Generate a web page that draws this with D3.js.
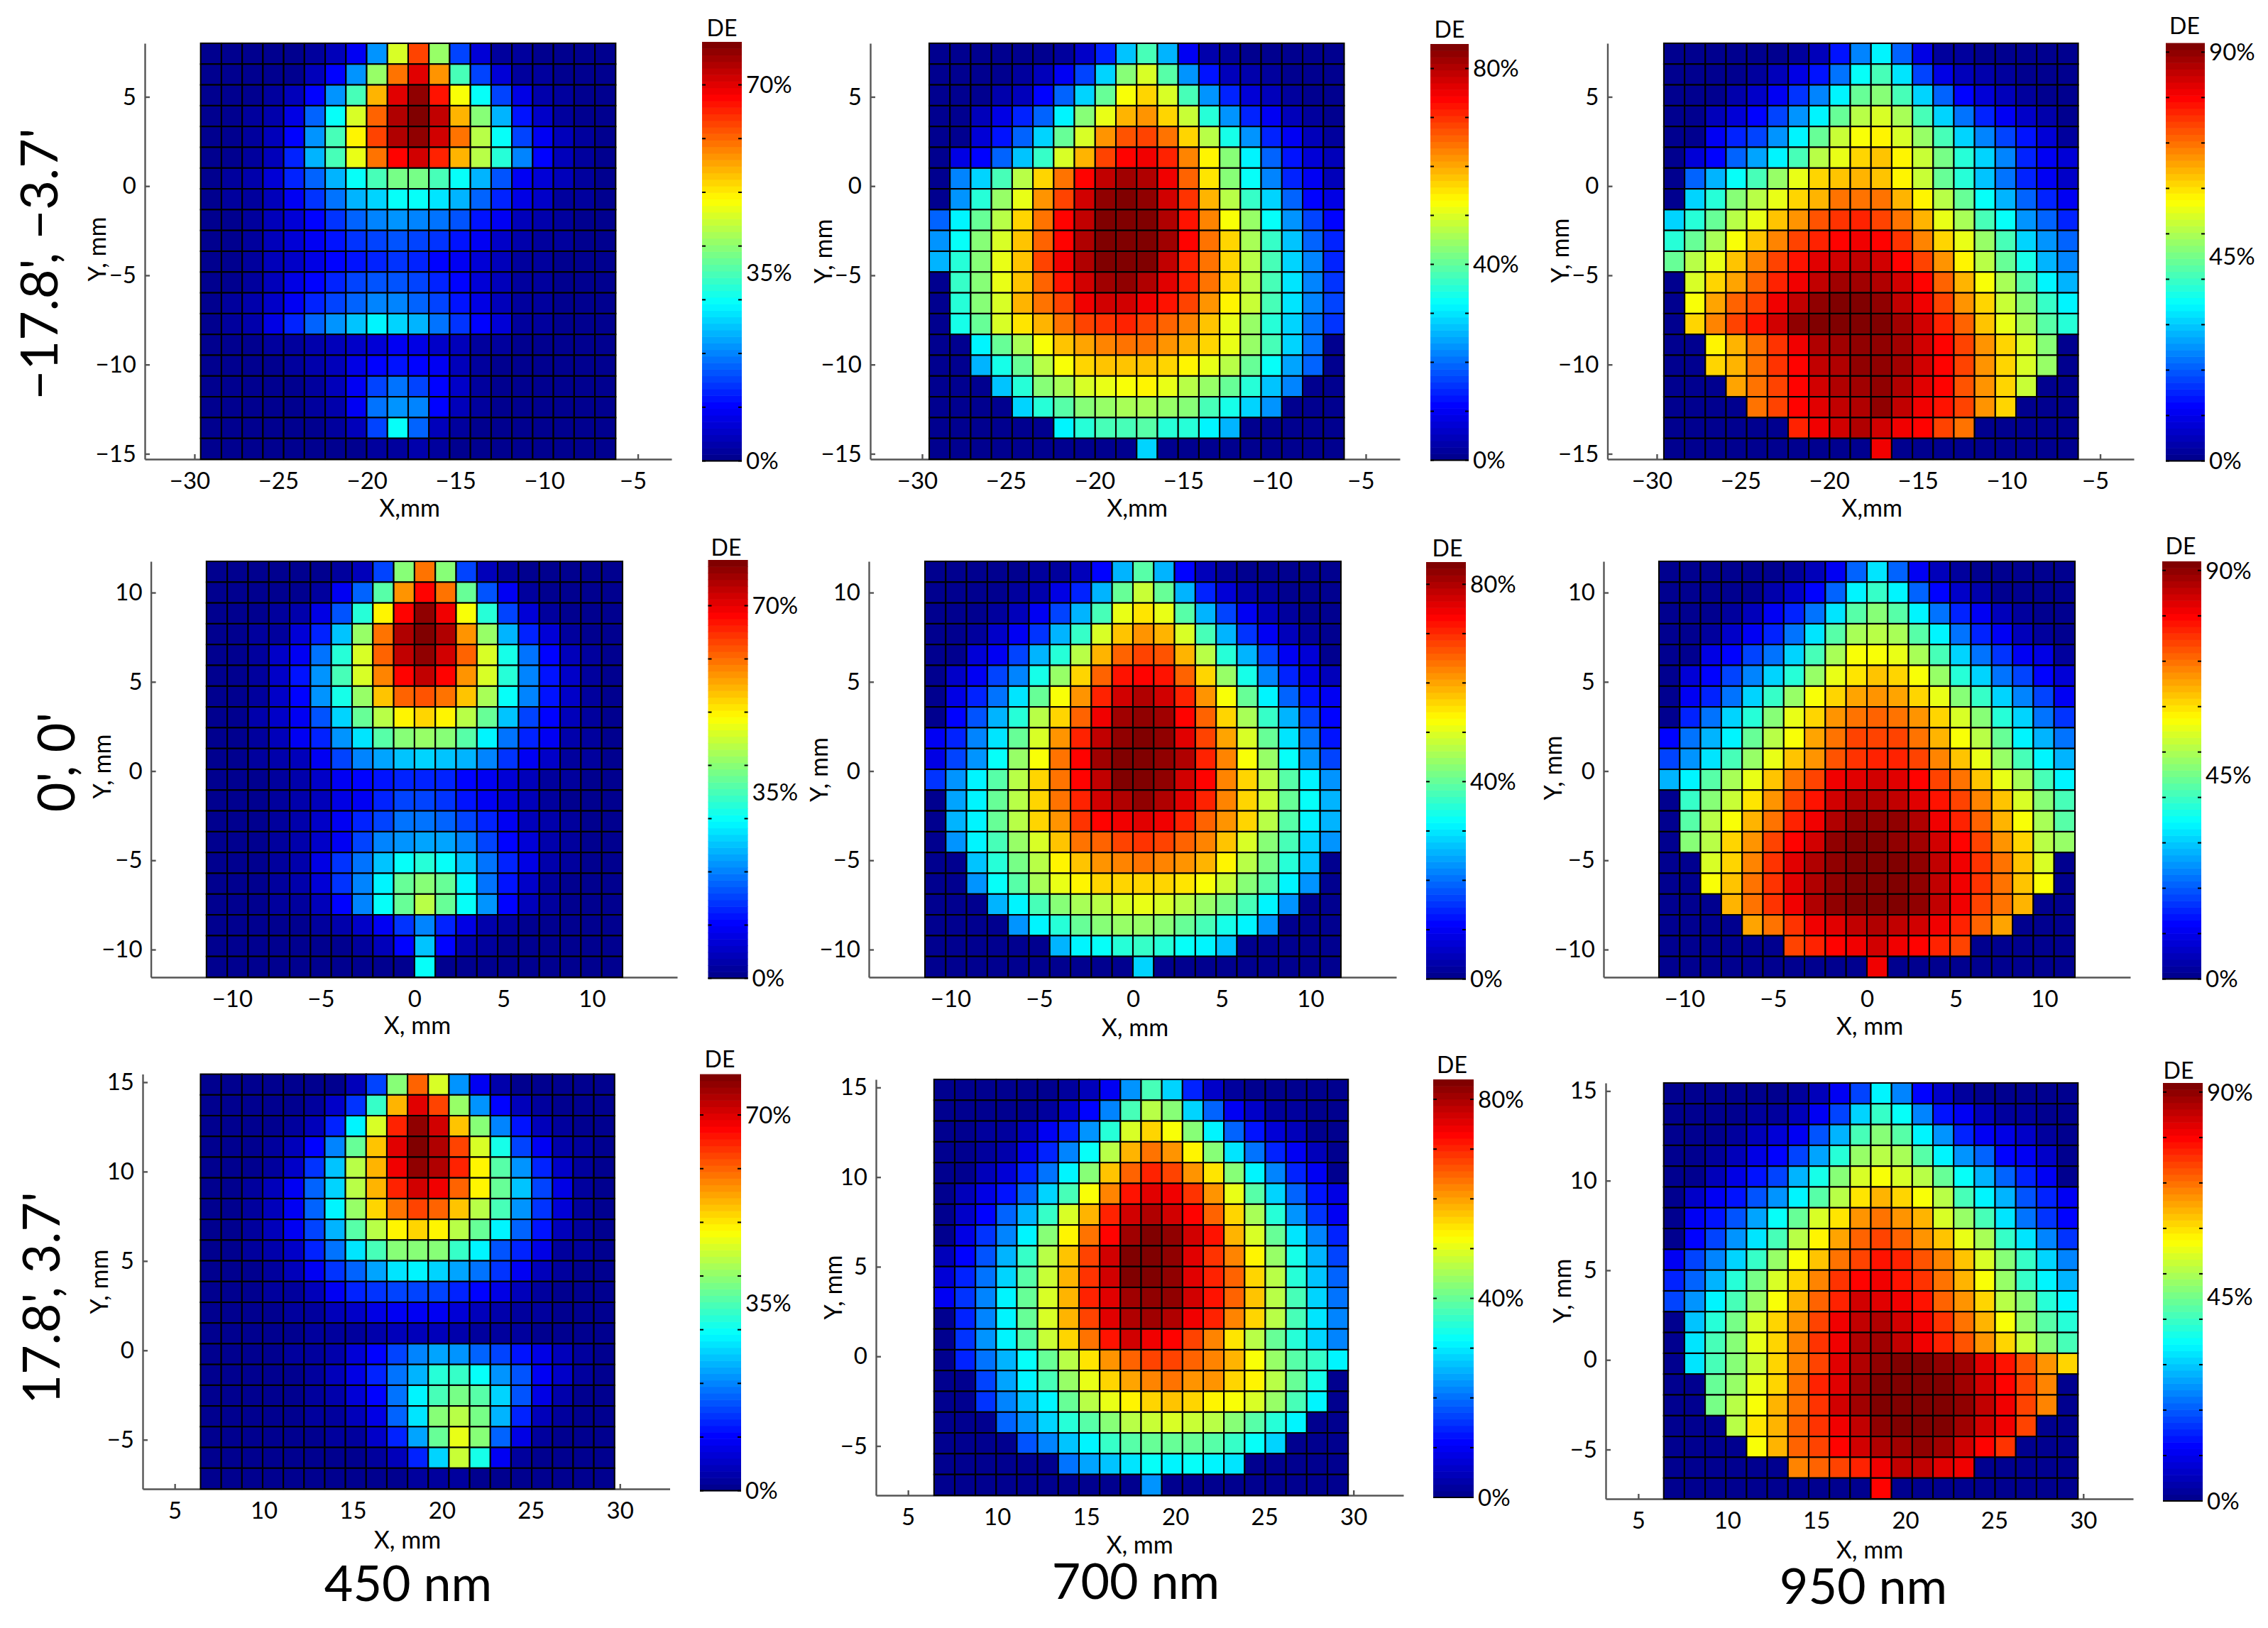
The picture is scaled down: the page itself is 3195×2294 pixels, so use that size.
<!DOCTYPE html>
<html>
<head>
<meta charset="utf-8">
<script src="https://cdn.jsdelivr.net/npm/d3@7"></script>
<style>
  html, body { margin: 0; background: #fff; }
  text { font-family: Lato, "Open Sans", sans-serif; fill: #000; }
</style>
</head>
<body>
<svg id="fig" width="3195" height="2294"></svg>
<script>
const top450 = [
[1,1,1,1,1,2,5,11,27,58,80,53,20,8,3,2,1,1,1,1],
[1,1,1,1,1,6,13,27,52,75,90,72,45,20,8,3,2,1,1,1],
[1,1,1,2,5,13,27,45,70,90,97,85,62,38,20,10,4,2,1,1],
[1,1,2,4,10,22,38,58,77,95,100,93,70,50,30,15,7,3,1,1],
[1,1,2,6,14,28,45,63,80,95,98,91,75,56,38,20,12,5,2,1],
[1,1,2,6,17,30,45,60,75,87,92,83,70,55,42,25,13,6,3,1],
[1,2,4,8,16,22,30,38,44,49,49,45,38,30,21,12,8,5,2,1],
[1,2,3,6,12,18,24,30,34,38,38,35,30,22,16,10,7,3,2,1],
[1,1,3,5,9,13,18,22,25,27,26,24,21,15,11,6,4,2,1,1],
[1,1,3,5,8,11,15,18,20,21,20,18,15,11,7,4,3,2,1,1],
[1,1,2,5,7,10,13,15,17,18,17,14,11,8,5,3,2,1,1,1],
[1,1,3,6,10,14,17,20,21,21,20,17,13,9,6,3,2,1,1,1],
[1,2,4,7,11,17,20,23,25,25,23,20,15,10,5,3,2,1,1,1],
[1,2,4,10,17,23,28,32,36,34,30,24,18,13,8,3,2,1,1,1],
[1,1,1,2,3,4,5,7,9,11,10,7,5,3,2,1,1,1,1,1],
[1,1,1,1,2,4,6,10,14,15,14,11,6,3,1,1,1,1,1,1],
[1,1,1,1,1,3,6,11,19,24,20,13,7,3,1,1,1,1,1,1],
[1,1,1,1,1,2,4,11,24,28,25,13,5,2,1,1,1,1,1,1],
[1,1,1,1,1,1,2,5,20,38,22,6,3,1,1,1,1,1,1,1],
[1,1,1,1,1,1,1,1,2,2,4,2,1,1,1,1,1,1,1,1]
];
const top700 = [
[1,1,1,1,1,1,3,7,17,32,45,30,12,4,2,1,1,1,1,1],
[1,1,1,1,3,6,11,19,33,50,58,46,28,15,6,4,2,1,1,1],
[1,1,1,4,6,13,23,33,48,62,67,58,44,27,16,9,5,2,1,1],
[1,1,5,10,16,23,36,50,60,69,73,67,57,42,27,17,12,5,3,1],
[1,1,9,15,22,33,47,58,72,79,81,76,66,55,40,27,16,11,5,2],
[1,10,14,23,32,43,58,70,80,87,88,83,74,63,50,37,23,15,9,5],
[1,25,33,45,55,67,76,86,93,96,95,88,77,65,50,39,25,17,12,6],
[1,28,42,52,60,72,81,91,98,100,98,92,82,70,56,43,33,23,14,10],
[22,36,47,56,66,76,86,93,99,100,99,94,85,74,62,52,38,28,20,13],
[27,39,50,59,68,78,87,95,100,100,100,96,87,76,66,54,43,32,23,17],
[31,41,51,60,68,80,88,95,99,100,99,93,84,75,66,55,44,33,26,17],
[1,43,51,60,68,78,85,91,96,97,95,90,84,76,66,56,45,35,25,18],
[1,42,51,59,69,76,81,88,92,92,89,85,80,73,64,57,45,35,26,19],
[1,40,48,58,65,70,76,80,82,83,80,78,74,68,60,52,42,33,24,18],
[1,1,37,47,54,62,68,71,74,76,75,72,70,66,60,53,45,34,24,1],
[1,1,30,40,47,56,62,66,68,68,68,66,64,60,55,47,39,29,22,1],
[1,1,1,32,42,50,54,58,60,62,63,60,56,53,47,41,32,25,1,1],
[1,1,1,1,33,41,46,50,52,54,54,52,50,44,40,34,27,1,1,1],
[1,1,1,1,1,1,37,41,44,45,46,42,42,36,30,1,1,1,1,1],
[1,1,1,1,1,1,1,1,1,1,34,1,1,1,1,1,1,1,1,1]
];
const top950 = [
[1,1,1,1,1,1,3,6,15,26,37,22,10,3,2,1,1,1,1,1],
[1,1,1,1,3,6,10,15,24,38,44,35,19,10,6,4,2,1,1,1],
[1,1,1,4,7,11,18,26,36,48,50,44,33,22,14,9,6,3,1,1],
[1,1,6,9,14,20,28,37,47,55,58,54,45,33,24,16,11,7,4,1],
[1,1,11,16,20,27,36,47,57,61,63,59,52,44,33,26,20,15,9,3],
[1,9,14,22,29,37,45,55,60,67,68,63,57,49,41,33,25,17,12,8],
[1,23,31,39,45,52,60,66,68,70,68,63,57,48,41,32,24,17,12,7],
[1,33,42,50,55,60,67,70,75,76,75,70,63,55,47,39,30,22,16,11],
[33,41,48,55,60,68,73,79,82,83,81,76,70,60,54,45,38,28,22,16],
[41,47,54,61,68,74,81,84,87,88,87,82,74,67,60,52,44,34,27,22],
[48,55,60,68,74,80,85,90,92,93,92,87,81,72,64,55,47,40,31,25],
[1,58,67,71,78,83,89,93,96,96,95,91,86,78,70,62,54,46,36,30],
[1,62,71,77,81,88,93,97,99,99,97,93,88,80,73,66,57,50,43,36],
[1,67,74,81,85,92,97,100,100,100,99,96,91,84,77,68,60,54,46,41],
[1,1,64,70,76,82,88,94,96,97,97,96,91,87,80,72,66,58,50,1],
[1,1,66,70,76,82,87,93,95,97,97,96,91,87,80,72,66,59,52,1],
[1,1,1,71,76,81,86,91,94,96,97,94,90,86,79,72,66,57,1,1],
[1,1,1,1,76,80,86,90,93,95,97,93,89,85,80,72,67,1,1,1],
[1,1,1,1,1,1,84,88,91,94,92,89,86,80,76,1,1,1,1,1],
[1,1,1,1,1,1,1,1,1,1,88,1,1,1,1,1,1,1,1,1]
];
const mid450 = [
[1,1,1,1,1,1,2,6,20,50,75,51,20,6,2,1,1,1,1,1],
[1,1,1,1,1,3,12,22,46,73,87,75,47,21,12,3,1,1,1,1],
[1,1,1,2,4,10,21,41,64,87,97,89,62,42,20,9,3,1,1,1],
[1,1,2,3,8,17,32,53,75,94,100,94,73,53,30,16,9,3,1,1],
[1,1,2,7,12,24,41,59,78,93,98,91,77,58,40,24,13,6,2,1],
[1,1,3,7,15,27,44,59,74,87,93,87,73,58,42,25,15,7,3,1],
[1,1,2,7,14,27,40,53,68,77,79,76,68,54,39,25,15,7,2,1],
[1,1,4,7,12,21,33,47,56,64,66,64,56,47,32,20,13,6,3,1],
[1,1,2,5,12,16,27,35,46,50,52,50,46,36,24,16,12,4,2,1],
[1,1,2,4,6,12,19,25,29,32,33,32,30,26,18,12,7,3,2,1],
[1,1,1,2,4,7,11,13,15,17,17,16,14,12,9,6,3,2,1,1],
[1,1,1,2,4,6,10,12,16,19,19,18,15,12,9,5,3,1,1,1],
[1,1,1,2,4,7,12,16,20,24,24,23,20,17,12,6,4,2,1,1],
[1,1,1,2,4,7,11,19,25,28,29,29,26,20,14,9,4,2,1,1],
[1,1,1,2,4,10,18,24,32,38,42,38,32,24,16,10,4,2,1,1],
[1,1,1,2,4,8,18,26,36,47,50,47,37,24,15,7,3,1,1,1],
[1,1,1,2,3,6,14,26,38,48,55,47,38,27,13,5,3,1,1,1],
[1,1,1,1,1,2,4,7,11,18,25,17,10,4,2,1,1,1,1,1],
[1,1,1,1,1,1,1,2,5,14,32,14,4,2,1,1,1,1,1,1],
[1,1,1,1,1,1,1,1,1,1,38,1,1,1,1,1,1,1,1,1]
];
const mid700 = [
[1,1,1,1,1,2,3,6,14,30,46,30,14,5,2,1,1,1,1,1],
[1,1,1,1,2,4,10,17,30,47,57,48,30,17,8,4,2,1,1,1],
[1,1,1,3,6,11,19,31,44,60,65,60,46,31,19,11,6,3,1,1],
[1,1,3,7,11,18,30,43,58,68,73,69,58,44,30,18,12,6,3,1],
[1,1,9,11,19,30,42,56,69,78,81,79,69,56,42,30,19,12,8,1],
[1,7,12,19,26,40,53,67,78,85,87,85,77,66,53,40,26,17,10,6],
[1,10,17,24,35,48,61,72,83,91,94,92,84,72,61,47,36,23,15,11],
[1,13,21,31,42,55,66,78,88,96,98,96,87,77,66,54,43,31,19,14],
[11,16,25,35,47,58,72,83,93,98,100,98,90,81,71,59,47,35,24,15],
[10,20,28,38,53,62,75,86,96,100,100,98,94,84,74,62,52,38,28,20],
[18,27,36,46,56,66,76,86,93,99,100,97,92,86,74,67,56,46,36,28],
[1,29,37,47,56,66,75,84,91,95,97,94,90,83,74,66,57,47,38,30],
[1,30,37,47,56,66,72,82,87,89,90,88,84,78,72,66,56,46,37,30],
[1,28,36,45,53,59,68,75,78,81,82,80,78,74,68,59,51,44,34,27],
[1,1,32,41,49,56,63,68,72,74,75,74,72,69,63,55,49,41,32,1],
[1,1,28,38,46,54,60,63,66,67,67,67,65,62,57,51,46,36,28,1],
[1,1,1,30,36,45,51,54,56,58,60,58,56,52,49,45,37,28,1,1],
[1,1,1,1,28,36,42,47,50,52,52,50,48,44,40,36,28,1,1,1],
[1,1,1,1,1,1,31,36,39,41,43,41,39,36,32,1,1,1,1,1],
[1,1,1,1,1,1,1,1,1,1,33,1,1,1,1,1,1,1,1,1]
];
const mid950 = [
[1,1,1,1,1,1,2,5,12,23,35,23,12,5,2,1,1,1,1,1],
[1,1,1,1,1,4,7,13,23,36,43,36,22,13,7,4,1,1,1,1],
[1,1,1,3,6,11,17,24,35,46,50,46,36,24,17,11,5,2,1,1],
[1,1,3,7,11,17,24,35,46,54,56,54,46,36,24,17,11,6,3,1],
[1,1,10,13,19,24,33,44,54,61,62,60,54,44,33,24,18,12,10,3],
[1,8,13,19,25,33,42,52,60,65,68,66,62,53,42,33,24,19,13,9],
[1,12,17,24,34,43,52,61,67,71,73,71,66,60,51,43,34,25,20,12],
[1,17,24,33,42,50,60,67,72,76,78,76,72,67,58,50,42,33,24,18],
[14,24,30,37,47,56,62,71,75,80,81,80,75,70,62,55,47,37,31,24],
[19,28,35,45,52,60,68,73,79,82,84,83,80,74,68,60,52,45,36,30],
[30,36,46,54,60,68,76,80,88,90,91,90,87,80,76,68,60,54,45,36],
[1,43,51,57,65,72,80,85,91,94,95,93,90,85,80,74,68,58,50,44],
[1,46,55,62,69,76,84,89,94,97,98,97,94,89,84,78,70,62,54,46],
[1,50,56,66,73,80,87,92,97,99,100,98,96,91,87,80,72,66,56,52],
[1,1,59,67,74,82,90,95,98,100,100,100,97,93,88,82,75,68,59,1],
[1,1,62,68,76,82,90,95,98,100,100,100,98,93,89,82,76,68,62,1],
[1,1,1,69,76,82,89,94,97,99,100,99,97,93,88,81,75,69,1,1],
[1,1,1,1,71,76,82,88,90,93,94,93,91,88,83,77,71,1,1,1],
[1,1,1,1,1,1,80,84,87,89,91,89,87,84,80,1,1,1,1,1],
[1,1,1,1,1,1,1,1,1,1,88,1,1,1,1,1,1,1,1,1]
];
const low450 = [
[1,1,1,1,1,1,1,6,20,50,78,58,27,11,4,1,1,1,1,1],
[1,1,1,1,1,2,7,18,43,70,90,80,53,28,14,6,2,1,1,1],
[1,1,1,1,2,6,16,36,58,84,97,92,68,50,25,15,5,2,1,1],
[1,1,1,2,5,13,26,48,68,90,100,95,81,58,40,20,12,4,2,1],
[1,1,1,3,7,18,32,55,70,88,98,95,83,63,46,28,16,7,2,1],
[1,1,2,5,12,22,34,55,70,84,91,88,78,63,47,32,19,10,3,1],
[1,1,2,6,12,23,37,52,66,76,80,77,68,56,44,28,18,8,2,1],
[1,1,2,5,11,20,30,46,55,63,67,63,56,47,36,23,15,6,2,1],
[1,1,2,4,7,16,24,35,44,50,50,50,43,36,21,17,10,3,2,1],
[1,1,1,3,5,11,18,23,29,35,36,33,29,24,18,11,5,3,1,1],
[1,1,1,2,3,6,12,16,18,20,20,19,16,13,10,5,3,1,1,1],
[1,1,1,1,2,3,5,7,10,12,12,11,9,6,4,3,2,1,1,1],
[1,1,1,1,1,2,2,3,4,5,5,5,4,3,2,2,1,1,1,1],
[1,1,1,1,2,3,4,9,14,20,25,29,27,22,19,15,10,5,2,1],
[1,1,1,1,1,3,5,10,17,24,31,41,43,38,28,21,12,7,2,1],
[1,1,1,1,1,2,4,8,14,24,36,45,49,46,33,21,10,4,1,1],
[1,1,1,1,1,2,3,5,10,23,35,50,56,49,31,16,6,2,1,1],
[1,1,1,1,1,1,2,3,7,17,29,48,60,50,23,10,3,1,1,1],
[1,1,1,1,1,1,1,1,2,5,17,33,57,40,12,2,1,1,1,1],
[1,1,1,1,1,1,1,1,1,1,2,2,2,1,1,1,1,1,1,1]
];
const low700 = [
[1,1,1,1,1,1,3,6,12,28,45,33,16,7,3,1,1,1,1,1],
[1,1,1,1,1,3,7,14,26,44,56,50,33,22,11,7,3,2,1,1],
[1,1,2,3,6,11,16,27,42,58,66,62,50,36,22,15,8,5,1,1],
[1,1,3,4,10,16,26,39,55,69,75,72,64,50,35,24,16,11,6,1],
[1,1,5,9,16,24,36,50,68,78,83,81,73,65,50,36,25,17,11,1],
[1,5,10,15,23,33,45,62,74,85,90,88,82,73,60,46,33,23,15,10],
[1,7,14,23,31,43,58,70,83,91,95,92,86,77,66,54,41,27,18,11],
[1,10,18,26,36,50,63,75,86,96,99,97,92,85,70,59,47,35,25,16],
[6,14,21,30,43,55,68,80,92,99,100,98,90,82,74,64,53,40,30,20],
[9,16,24,34,46,57,70,82,91,99,100,98,90,84,78,66,55,42,32,22],
[11,18,25,36,48,59,70,83,90,96,98,97,91,85,77,68,56,45,34,24],
[1,17,26,36,48,59,69,81,90,95,96,94,88,83,74,67,56,45,35,25],
[1,18,27,37,46,57,66,76,85,91,89,86,80,74,65,56,47,41,33,25],
[1,16,24,30,39,47,55,65,73,78,81,81,77,74,69,61,53,46,43,36],
[1,1,20,29,36,44,52,60,67,71,74,76,73,72,67,63,55,48,40,1],
[1,1,18,25,32,37,48,55,60,64,67,68,66,64,62,58,52,45,36,1],
[1,1,1,22,28,33,41,46,50,55,57,58,57,55,51,46,42,36,1,1],
[1,1,1,1,21,26,32,36,43,46,48,48,48,46,43,39,34,1,1,1],
[1,1,1,1,1,1,24,29,32,35,38,37,38,36,35,1,1,1,1,1],
[1,1,1,1,1,1,1,1,1,1,27,1,1,1,1,1,1,1,1,1]
];
const low950 = [
[1,1,1,1,1,1,3,5,11,20,37,26,14,7,2,1,1,1,1,1],
[1,1,1,1,2,3,6,12,20,33,43,38,26,15,11,6,3,2,1,1],
[1,1,1,2,5,8,12,21,30,44,50,46,36,27,17,12,10,7,2,1],
[1,1,3,5,10,13,20,29,41,52,56,54,46,36,28,22,14,11,7,1],
[1,1,6,10,15,20,30,40,50,58,62,59,55,47,38,31,23,17,12,1],
[1,7,11,15,21,27,36,46,56,65,70,66,62,55,45,36,30,21,16,12],
[1,11,15,21,29,38,47,58,65,73,76,73,69,59,52,45,35,24,18,13],
[1,14,19,28,35,45,55,63,71,78,81,78,72,68,60,54,43,35,26,18],
[12,20,26,33,43,52,61,68,75,81,85,83,79,74,68,58,50,43,33,25],
[16,22,31,41,49,59,66,74,82,87,88,85,82,76,70,62,53,43,36,31],
[20,27,37,44,53,62,69,77,84,92,90,89,85,78,72,66,56,50,41,37],
[1,32,42,49,58,66,72,80,88,93,94,92,88,82,75,69,62,52,46,41],
[1,35,44,50,60,67,74,82,88,94,96,93,88,84,79,73,66,57,50,44],
[1,35,44,50,57,66,74,81,90,94,97,100,100,98,96,90,85,79,73,66],
[1,1,47,53,60,67,75,83,90,96,99,100,100,99,96,91,87,81,74,1],
[1,1,49,55,62,69,76,82,91,96,99,100,100,99,97,93,89,81,74,1],
[1,1,1,55,65,70,77,82,89,93,97,99,100,99,96,92,88,81,1,1],
[1,1,1,1,62,70,77,81,87,92,95,96,97,96,92,86,82,1,1,1],
[1,1,1,1,1,1,74,77,81,84,89,93,93,90,88,1,1,1,1,1],
[1,1,1,1,1,1,1,1,1,1,86,1,1,1,1,1,1,1,1,1]
];

const rowLabels = ["\u221217.8', \u22123.7'", "0', 0'", "17.8', 3.7'"];
const wavelengths = ['450 nm', '700 nm', '950 nm'];
const xTicksByRow = [[-30, -25, -20, -15, -10, -5], [-10, -5, 0, 5, 10], [5, 10, 15, 20, 25, 30]];
const yTicksByRow = [[-15, -10, -5, 0, 5], [-10, -5, 0, 5, 10], [-5, 0, 5, 10, 15]];
const barLabelsByColumn = [[0, 35, 70], [0, 40, 80], [0, 45, 90]];
const xTitles = ['X,mm', 'X, mm', 'X, mm'];

// layout of every panel: plot box, axis domains, cell extent in mm, colour bar box and top value
const layout = [
  {row: 0, col: 0, data: top450, box: [204, 946, 61, 647], xDom: [-32.8, -3.1], yDom: [-15.3, 8], edges: [-29.65, -6.25], bar: [989, 1045, 59, 649.5, 78], de: [1017, 39], xt: [577, 716], yt: [137, 351]},
  {row: 0, col: 1, data: top700, box: [1226, 1972, 61, 647], xDom: [-32.92, -3.08], yDom: [-15.3, 8], edges: [-29.6, -6.22], bar: [2015, 2069, 62, 648.5, 85], de: [2042, 41], xt: [1602, 716], yt: [1160, 354]},
  {row: 0, col: 2, data: top950, box: [2264.5, 3006, 61, 647], xDom: [-32.78, -3.1], yDom: [-15.3, 8], edges: [-29.6, -6.24], bar: [3051, 3106, 60.6, 649.5, 92], de: [3077.5, 36], xt: [2637, 716], yt: [2198, 353]},
  {row: 1, col: 0, data: mid450, box: [212.6, 954, 791, 1377], xDom: [-14.85, 14.8], yDom: [-11.55, 11.75], edges: [-11.72, 11.72], bar: [997.5, 1053.6, 789, 1378.5, 78.6], de: [1023, 771], xt: [588, 1445], yt: [144, 1080]},
  {row: 1, col: 1, data: mid700, box: [1224, 1967, 791, 1377], xDom: [-14.88, 14.84], yDom: [-11.55, 11.75], edges: [-11.72, 11.72], bar: [2009, 2065, 792, 1379.5, 84.5], de: [2039, 772], xt: [1599, 1448], yt: [1153.6, 1084.5]},
  {row: 1, col: 2, data: mid950, box: [2259, 3001, 791, 1377], xDom: [-14.84, 14.84], yDom: [-11.55, 11.75], edges: [-11.72, 11.72], bar: [3046, 3101, 791, 1379.5, 92], de: [3072, 769], xt: [2634, 1446], yt: [2188, 1082]},
  {row: 2, col: 0, data: low450, box: [201, 943.5, 1513.6, 2098], xDom: [3.2, 32.8], yDom: [-7.75, 15.45], edges: [6.45, 29.7], bar: [986, 1044, 1513.6, 2100.6, 77.6], de: [1014, 1492], xt: [574, 2170], yt: [140, 1806]},
  {row: 2, col: 1, data: low700, box: [1234, 1977, 1521, 2107], xDom: [3.2, 32.8], yDom: [-7.75, 15.45], edges: [6.46, 29.7], bar: [2019, 2076, 1521, 2110, 84], de: [2045.5, 1500], xt: [1605.6, 2177], yt: [1173.7, 1814]},
  {row: 2, col: 2, data: low950, box: [2262, 3005, 1526, 2112], xDom: [3.17, 32.8], yDom: [-7.75, 15.45], edges: [6.43, 29.7], bar: [3047, 3103, 1526, 2115, 92], de: [3069, 1508], xt: [2634, 2183.6], yt: [2201, 1819]}
];

// matlab style jet in 64 steps
const jetStops = ['#00008f', '#0000ff', '#00ffff', '#7fff7f', '#ffff00', '#ff0000', '#800000'];
const jetPos = [0, 0.125, 0.375, 0.5, 0.625, 0.875, 1];
const jetLine = d3.scaleLinear().domain(jetPos).range(jetStops).interpolate(d3.interpolateRgb);
const jet = t => jetLine(Math.min(63, Math.floor(t * 64)) / 63);

const svg = d3.select('#fig');

layout.forEach(p => {
  const [left, right, top, bottom] = p.box;
  const x = d3.scaleLinear().domain(p.xDom).range([left, right]);
  const y = d3.scaleLinear().domain(p.yDom).range([bottom, top]);
  const g = svg.append('g');

  // axes first, the cells cover most of their ticks
  const xAxis = d3.axisBottom(x).tickValues(xTicksByRow[p.row]).tickSize(-7).tickSizeOuter(0).tickPadding(19).tickFormat(d3.format('d'));
  const yAxis = d3.axisLeft(y).tickValues(yTicksByRow[p.row]).tickSize(-7).tickSizeOuter(0).tickPadding(12).tickFormat(d3.format('d'));
  const xg = g.append('g').attr('transform', `translate(0,${bottom})`).call(xAxis);
  const yg = g.append('g').attr('transform', `translate(${left},0)`).call(yAxis);
  xg.selectAll('.tick text').filter(d => d < 0).attr('dx', -7);
  [xg, yg].forEach(a => {
    a.selectAll('text').style('font-size', '33px');
    a.selectAll('path, line').attr('stroke', '#555').attr('stroke-width', 2.4);
  });

  const colBand = d3.scaleBand().domain(d3.range(20)).range(p.edges.map(x));
  const rowBand = d3.scaleBand().domain(d3.range(20)).range([top, bottom]);
  const colour = d3.scaleLinear().domain([0, 100]).range([0, 1]);

  g.selectAll('g.row').data(p.data).join('g').attr('class', 'row')
    .attr('transform', (d, i) => `translate(0,${rowBand(i)})`)
    .selectAll('rect').data(d => d).join('rect')
    .attr('x', (d, i) => colBand(i))
    .attr('width', colBand.bandwidth())
    .attr('height', rowBand.bandwidth())
    .attr('fill', d => jet(colour(d)))
    .attr('stroke', '#000')
    .attr('stroke-width', 2.1);

  // colour bar
  const [bx0, bx1, bt, bb, bMax] = p.bar;
  const barY = d3.scaleLinear().domain([0, bMax]).range([bb, bt]);
  const steps = d3.range(64);
  g.selectAll('rect.step').data(steps).join('rect').attr('class', 'step')
    .attr('x', bx0)
    .attr('width', bx1 - bx0)
    .attr('y', d => barY((d + 1) / 64 * bMax))
    .attr('height', (bb - bt) / 64 + 0.6)
    .attr('fill', d => jet((d + 0.5) / 64));
  const marks = d3.range(0, bMax, 10);
  g.selectAll('line.markL').data(marks).join('line').attr('class', 'markL')
    .attr('x1', bx0).attr('x2', bx0 + 5).attr('y1', barY).attr('y2', barY).attr('stroke', '#000').attr('stroke-width', 2);
  g.selectAll('line.markR').data(marks).join('line').attr('class', 'markR')
    .attr('x1', bx1 - 5).attr('x2', bx1).attr('y1', barY).attr('y2', barY).attr('stroke', '#000').attr('stroke-width', 2);
  g.append('line').attr('x1', bx0).attr('x2', bx1).attr('y1', bb).attr('y2', bb).attr('stroke', '#000').attr('stroke-width', 2);
  g.selectAll('text.barLabel').data(barLabelsByColumn[p.col]).join('text').attr('class', 'barLabel')
    .attr('x', bx1 + 6)
    .attr('y', barY)
    .attr('dy', '0.36em')
    .style('font-size', '33px')
    .text(d => d + '%');

  g.append('text').attr('x', p.de[0]).attr('y', p.de[1]).attr('dy', '0.36em')
    .attr('text-anchor', 'middle').style('font-size', '32px').text('DE');
  g.append('text').attr('x', p.xt[0]).attr('y', p.xt[1]).attr('dy', '0.36em')
    .attr('text-anchor', 'middle').style('font-size', '34px').text(xTitles[p.row]);
  g.append('text').attr('transform', `translate(${p.yt[0]},${p.yt[1]}) rotate(-90)`).attr('dy', '0.36em')
    .attr('text-anchor', 'middle').style('font-size', '34px').text('Y, mm');
});

// big labels at the left and under the columns
const rowLabelPos = [[81, 372], [105, 1074], [84, 1829]];
svg.selectAll('text.rowLabel').data(rowLabels).join('text').attr('class', 'rowLabel')
  .attr('transform', (d, i) => `translate(${rowLabelPos[i][0]},${rowLabelPos[i][1]}) rotate(-90)`)
  .attr('text-anchor', 'middle')
  .style('font-size', '72px')
  .text(d => d);
const wavePos = [[575, 2256], [1600, 2253], [2625, 2260]];
svg.selectAll('text.wave').data(wavelengths).join('text').attr('class', 'wave')
  .attr('x', (d, i) => wavePos[i][0])
  .attr('y', (d, i) => wavePos[i][1])
  .attr('text-anchor', 'middle')
  .style('font-size', '70px')
  .text(d => d);
</script>
</body>
</html>
